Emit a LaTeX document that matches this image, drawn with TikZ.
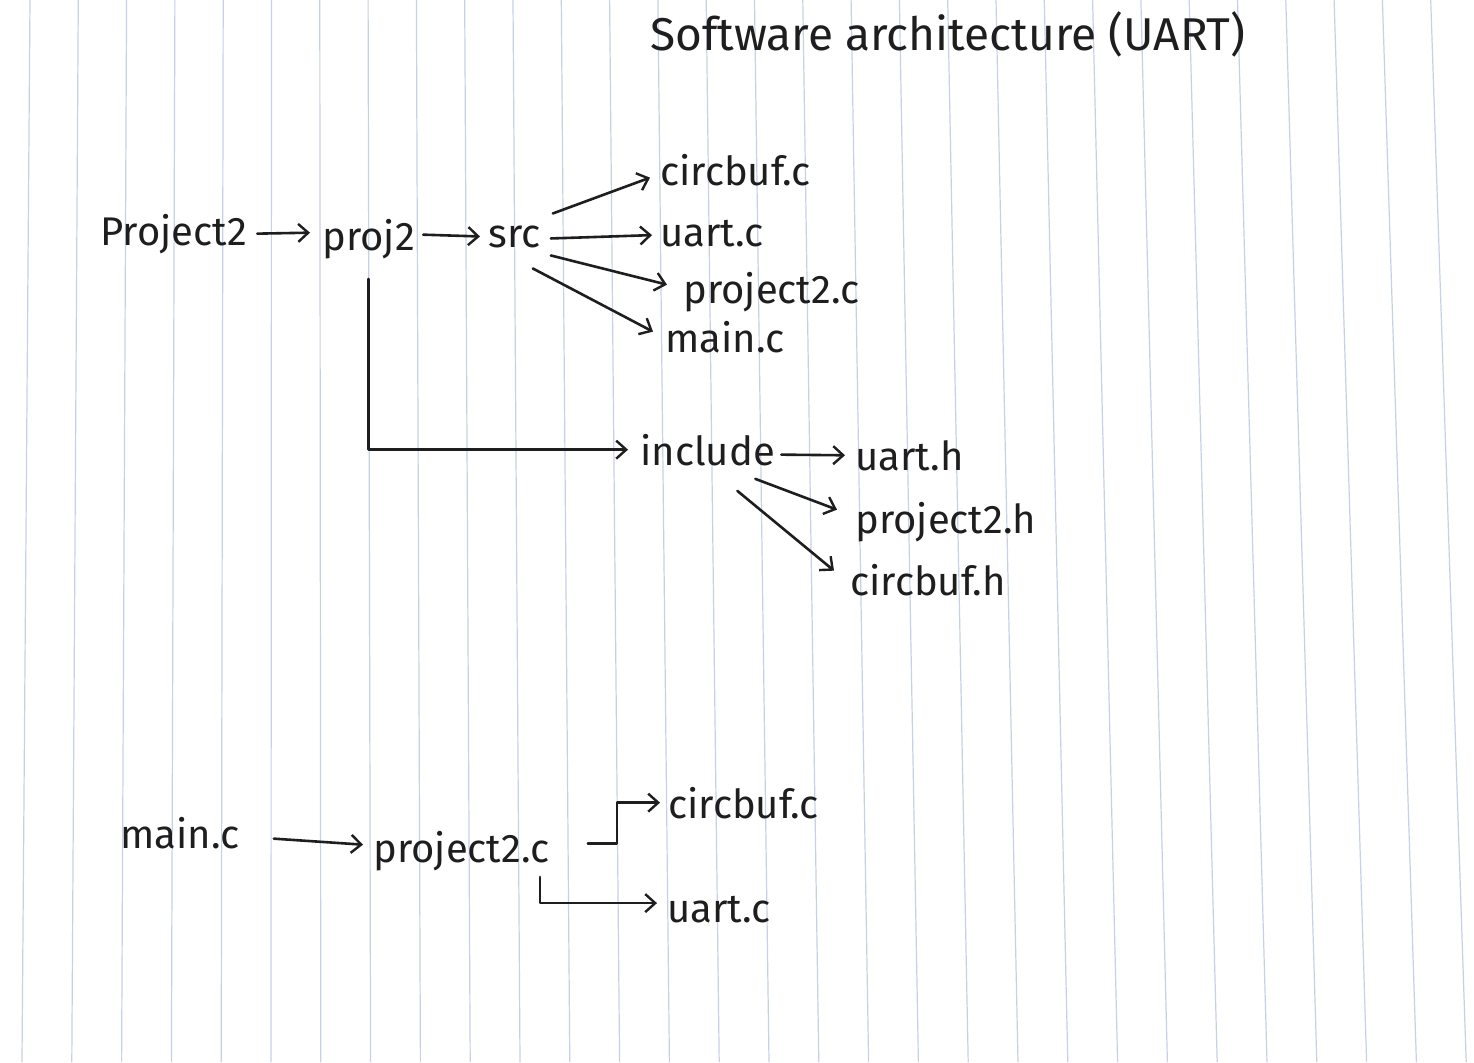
\documentclass[tikz,border=0pt]{standalone}
\usepackage{fontspec}
\setmainfont{Fira Sans}
\usetikzlibrary{arrows.meta}
\definecolor{ink}{RGB}{30,30,30}
\definecolor{paperline}{RGB}{200,208,230}
\begin{document}
\begin{tikzpicture}[x=0.5pt,y=-0.5pt,
  lbl/.style={anchor=base west, inner xsep=3pt, inner ysep=2pt, text=ink,
              font=\fontsize{20}{24}\selectfont},
  ttl/.style={anchor=base west, inner sep=0pt, text=ink,
              font=\fontsize{23}{27}\selectfont},
  arr/.style={draw=ink, line width=1.3pt, line cap=round, line join=round,
              -{Straight Barb[length=5pt,width=9pt,line width=1.2pt]}},
  rulestyle/.style={draw=paperline, line width=0.6pt}]
\useasboundingbox (0,0) rectangle (1474,1062);
\fill[white] (0,0) rectangle (1474,1062);
% ruled paper (vertical lines)
\begin{scope}
\clip (0,0) rectangle (1474,1062);
\foreach \i in {0,...,29}{
  \pgfmathsetmacro\xt{30+48.3*\i}
  \pgfmathsetmacro\xb{22+49.8*\i}
  \draw[rulestyle] (\xt,0) -- (\xb,1062);
}
\end{scope}

% title
\node[ttl] (title) at (650,50) {Software architecture (UART)};

% upper tree
\node[lbl] (project) at (94,245) {Project2};
\node[lbl] (proj) at (316,250) {proj2};
\node[lbl] (src) at (482,247) {src};
\node[lbl] (circC) at (654,185) {circbuf.c};
\node[lbl] (uartC) at (654,246) {uart.c};
\node[lbl] (projC) at (677,303) {project2.c};
\node[lbl] (mainC) at (659,352) {main.c};
\node[lbl] (incl) at (634,465) {include};
\node[lbl] (uartH) at (849,470) {uart.h};
\node[lbl] (projH) at (849,533) {project2.h};
\node[lbl] (circH) at (844,595) {circbuf.h};

\draw[arr] ([shift={(4,0)}]project.east) -- ([shift={(-6,-6)}]proj.west);
\draw[arr] ([shift={(2,-4)}]proj.east) -- ([shift={(-2,0)}]src.west);
\draw[arr] ([shift={(6,-23)}]src.east) -- ([shift={(-4,8)}]circC.west);
\draw[arr] ([shift={(4,2)}]src.east) -- ([shift={(-2,2)}]uartC.west);
\draw[arr] ([shift={(4,19)}]src.east) -- ([shift={(-10,-7)}]projC.west);
\draw[arr] ([shift={(-14,32)}]src.east) -- ([shift={(-6,-5)}]mainC.west);
\draw[arr] ([shift={(0,16)}]proj.south) |- ([shift={(-6,0)}]incl.west);
\draw[arr] ([shift={(0,5)}]incl.east) -- ([shift={(-4,0)}]uartH.west);
\draw[arr] ([shift={(-26,9)}]incl.south east) -- ([shift={(-12,-12)}]projH.west);
\draw[arr] ([shift={(-44,21)}]incl.south east) -- ([shift={(-10,-9)}]circH.west);

% lower tree
\node[lbl] (mainB) at (114,848) {main.c};
\node[lbl] (projB) at (367,862) {project2.c};
\node[lbl] (circB) at (662,818) {circbuf.c};
\node[lbl] (uartB) at (661,922) {uart.c};

\draw[arr] ([shift={(28,6)}]mainB.east) -- ([shift={(-4,-6)}]projB.west);
\draw[arr] ([shift={(32,-7)}]projB.east) -| ([shift={(-45,0)}]circB.west) -- ([shift={(-2,0)}]circB.west);
\draw[arr] ([shift={(-16,2)}]projB.south east) |- ([shift={(-4,-6)}]uartB.west);
\end{tikzpicture}
\end{document}
